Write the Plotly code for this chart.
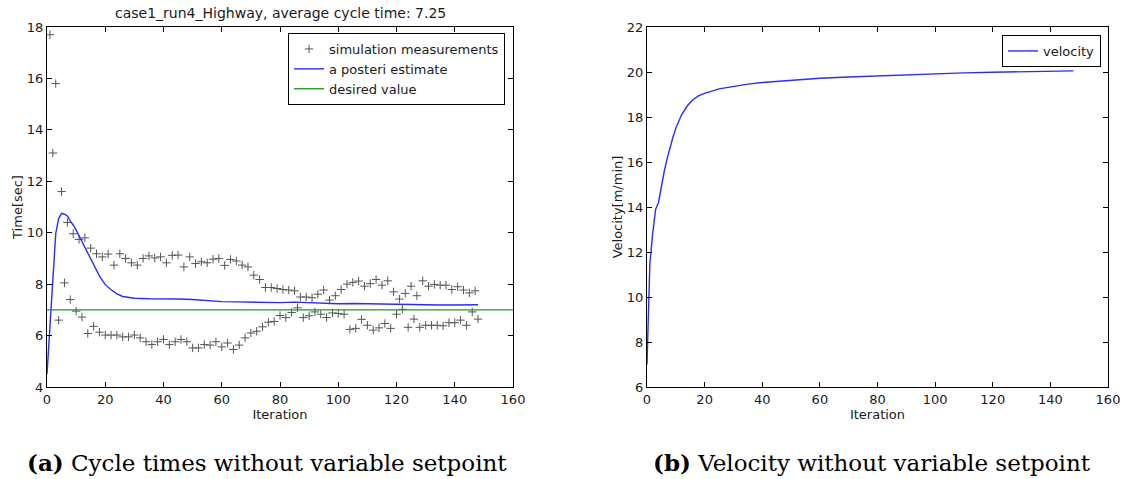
import plotly.graph_objects as go
from plotly.subplots import make_subplots

# ---- Data ----
odd_iter = list(range(1, 148, 2))
odd_meas = [17.7, 15.8, 11.6, 10.4, 9.96, 9.74, 9.8, 9.4, 9.18, 9.06, 9.17, 8.74, 9.18, 9.0,
            8.83, 8.74, 9.0, 9.1, 9.02, 9.06, 8.83, 9.12, 9.13, 8.67, 9.06, 8.8, 8.87, 8.83,
            8.97, 9.0, 8.73, 8.96, 8.9, 8.74, 8.67, 8.35, 8.18,
            7.87, 7.87, 7.83, 7.79, 7.77, 7.74, 7.5, 7.5, 7.47, 7.61, 7.77, 7.38, 7.55, 7.79,
            8.0, 8.07, 8.12, 7.92, 8.02, 8.18, 7.96, 8.13, 7.7, 7.42, 7.64, 7.92, 7.55, 8.13,
            7.92, 7.99, 7.96, 7.96, 7.79, 7.9, 7.77, 7.66, 7.74]
even_iter = list(range(2, 149, 2))
even_meas = [13.1, 6.6, 8.05, 7.4, 6.95, 6.72, 6.08, 6.36, 6.13, 6.02, 6.02, 6.02, 5.95, 5.95,
             6.02, 5.91, 5.76, 5.65, 5.76, 5.85, 5.65, 5.76, 5.85, 5.76, 5.52, 5.52, 5.65, 5.63,
             5.76, 5.56, 5.71, 5.46, 5.63, 5.91, 6.1, 6.17, 6.34, 6.52, 6.55, 6.78, 6.7, 6.9,
             7.08, 6.7, 6.77, 6.92, 6.83, 6.7, 6.88, 6.86, 6.83, 6.24, 6.28, 6.63, 6.4, 6.21,
             6.3, 6.47, 6.28, 6.83, 7.02, 6.32, 6.64, 6.32, 6.4, 6.4, 6.4, 6.38, 6.5, 6.5, 6.6,
             6.4, 6.92, 6.64]

est_iter = [0, 1, 2, 3, 4, 5, 6, 7, 8, 9, 10, 11, 12, 13, 14, 15, 16, 17, 18, 19, 20, 22, 24,
            26, 28, 30, 35, 40, 45, 50, 55, 60, 65, 70, 75, 80, 85, 90, 95, 100, 105, 110, 115,
            120, 125, 130, 135, 140, 145, 148]
est_vals = [4.5, 6.3, 8.0, 9.97, 10.55, 10.75, 10.72, 10.65, 10.45, 10.3, 10.1, 9.88, 9.65,
            9.42, 9.2, 8.98, 8.75, 8.52, 8.32, 8.15, 7.98, 7.78, 7.62, 7.52, 7.47, 7.45, 7.43,
            7.43, 7.42, 7.4, 7.35, 7.32, 7.31, 7.3, 7.27, 7.28, 7.3, 7.28, 7.25, 7.24, 7.25,
            7.24, 7.23, 7.22, 7.2, 7.18, 7.19, 7.19, 7.2, 7.2]

desired_x = [0, 160]
desired_y = [7, 7]

vel_iter = [0, 1, 2, 3, 4, 5, 6, 7, 8, 9, 10, 12, 14, 16, 18, 20, 25, 30, 35, 40, 50, 60, 70,
            80, 90, 100, 110, 120, 130, 140, 148]
vel_vals = [7.0, 11.5, 12.85, 13.9, 14.2, 15.0, 15.6, 16.15, 16.65, 17.1, 17.5, 18.1, 18.5,
            18.78, 18.95, 19.05, 19.25, 19.37, 19.46, 19.53, 19.63, 19.72, 19.78, 19.83, 19.88,
            19.92, 19.96, 19.99, 20.02, 20.04, 20.05]

x_ticks = [0, 20, 40, 60, 80, 100, 120, 140, 160]
y1_ticks = [4, 6, 8, 10, 12, 14, 16, 18]
y2_ticks = [6, 8, 10, 12, 14, 16, 18, 20, 22]

title_text = "case1_run4_Highway, average cycle time: 7.25"
caption_a = "<b>(a)</b> Cycle times without variable setpoint"
caption_b = "<b>(b)</b> Velocity without variable setpoint"

# ---- Figure ----
W, H = 1129, 479
FONT = "DejaVu Sans"
TXT = "#1a1a1a"

fig = make_subplots(rows=1, cols=2)

meas_x = []
meas_y = []
for i in range(len(odd_iter)):
    meas_x.append(odd_iter[i]); meas_y.append(odd_meas[i])
    meas_x.append(even_iter[i]); meas_y.append(even_meas[i])

fig.add_trace(go.Scatter(x=meas_x, y=meas_y, mode="markers", name="simulation measurements",
                         marker=dict(symbol="cross-thin", size=6, color="#555555",
                                     line=dict(width=1, color="#555555")),
                         legend="legend"), row=1, col=1)
fig.add_trace(go.Scatter(x=est_iter, y=est_vals, mode="lines", name="a posteri estimate",
                         line=dict(color="#2b2bff", width=1.4), legend="legend"), row=1, col=1)
fig.add_trace(go.Scatter(x=desired_x, y=desired_y, mode="lines", name="desired value",
                         line=dict(color="#1f9a1f", width=1.4), legend="legend"), row=1, col=1)
fig.add_trace(go.Scatter(x=vel_iter, y=vel_vals, mode="lines", name="velocity",
                         line=dict(color="#2b2bff", width=1.4), legend="legend2"), row=1, col=2)

axis_common = dict(showgrid=False, zeroline=False, showline=True, linecolor="black",
                   linewidth=1.2, mirror="allticks", ticks="inside", ticklen=5,
                   tickcolor="black", tickwidth=1, automargin=False,
                   tickfont=dict(family=FONT, size=13, color=TXT),
                   title_font=dict(family=FONT, size=13, color=TXT))

fig.update_xaxes(range=[0, 160], tickvals=x_ticks, title_text="Iteration",
                 title_standoff=2, **axis_common)
fig.update_yaxes(title_standoff=1, **axis_common)
fig.update_yaxes(range=[4, 18], tickvals=y1_ticks, title_text="Time[sec]", row=1, col=1)
fig.update_yaxes(range=[6, 22], tickvals=y2_ticks, title_text="Velocity[m/min]", row=1, col=2)

y_dom = [1 - 387 / H, 1 - 27 / H]
fig.update_layout(
    xaxis=dict(domain=[47 / W, 513 / W]),
    xaxis2=dict(domain=[647 / W, 1108 / W]),
    yaxis=dict(domain=y_dom),
    yaxis2=dict(domain=y_dom),
)

fig.update_layout(
    width=W, height=H,
    margin=dict(l=0, r=0, t=0, b=0),
    paper_bgcolor="white", plot_bgcolor="white",
    font=dict(family=FONT, size=13, color=TXT),
    showlegend=True,
    legend=dict(x=505 / W, y=1 - 33 / H, xanchor="right", yanchor="top",
                bordercolor="black", borderwidth=1, bgcolor="white",
                font=dict(family=FONT, size=13, color=TXT), tracegroupgap=0),
    legend2=dict(x=1101 / W, y=1 - 35 / H, xanchor="right", yanchor="top",
                 bordercolor="black", borderwidth=1, bgcolor="white",
                 font=dict(family=FONT, size=13, color=TXT)),
    annotations=[
        dict(text=title_text, x=(47 + 513) / 2 / W, y=1 - 13 / H, xref="paper", yref="paper",
             xanchor="center", yanchor="middle", showarrow=False,
             font=dict(family=FONT, size=14, color=TXT)),
        dict(text=caption_a, x=267 / W, y=1 - 462 / H, xref="paper", yref="paper",
             xanchor="center", yanchor="middle", showarrow=False,
             font=dict(family="DejaVu Serif", size=23, color="black")),
        dict(text=caption_b, x=872 / W, y=1 - 462 / H, xref="paper", yref="paper",
             xanchor="center", yanchor="middle", showarrow=False,
             font=dict(family="DejaVu Serif", size=23, color="black")),
    ],
)

fig.write_html("out.html", config={"displayModeBar": False},
               post_script="document.body.style.margin='0';document.body.style.overflow='hidden';")
